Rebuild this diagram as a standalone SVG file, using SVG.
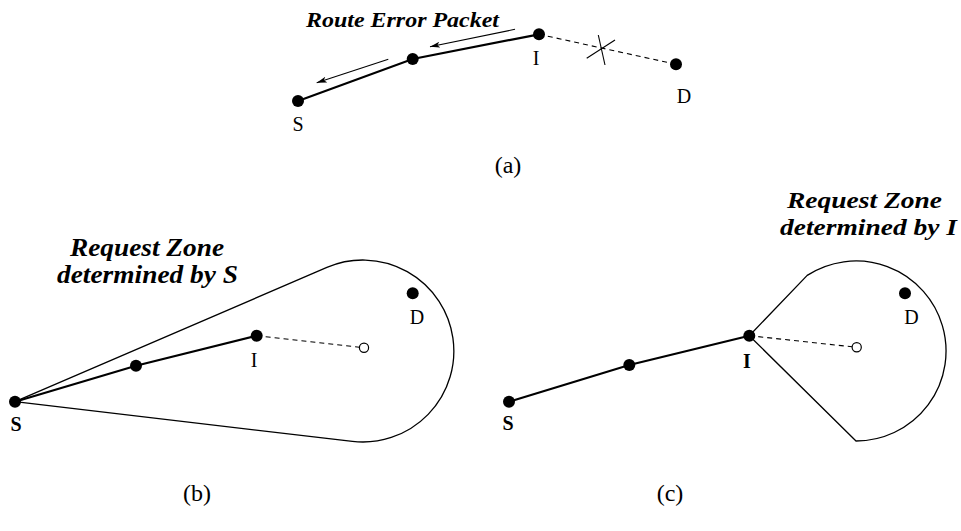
<svg xmlns="http://www.w3.org/2000/svg" width="961" height="531" viewBox="0 0 961 531">
<style>
.bg{fill:#fff}
.node{fill:#000}
.hollow{fill:#fff;stroke:#000;stroke-width:1.2}
.path{stroke:#000;stroke-width:2.2;fill:none;stroke-linecap:round}
.dash{stroke:#000;stroke-width:1.1;fill:none;stroke-dasharray:5,4}
.zone{stroke:#000;stroke-width:1.3;fill:none;stroke-linejoin:round}
.thin{stroke:#000;stroke-width:1.1;fill:none}
text{font-family:'Liberation Serif','Times New Roman',Times,serif;fill:#000}
.lbl{font-size:20px;text-anchor:middle}
.b{font-weight:bold}
.cap{font-size:24px;text-anchor:middle}
.title{font-weight:bold;font-style:italic}
</style>
<defs>
<marker id="ah" viewBox="0 0 10 6" refX="10" refY="3" markerWidth="10" markerHeight="6" markerUnits="userSpaceOnUse" orient="auto">
<path d="M0,0 L10,3 L0,6 L2.5,3 Z" fill="#000"/>
</marker>
</defs>
<rect class="bg" x="0" y="0" width="961" height="531"/>

<g id="connectors">
<polyline class="path" points="298,101 412.7,59 539,34.3"/>
<line class="dash" x1="539" y1="34.3" x2="676" y2="64.3"/>
<line class="thin" x1="586.7" y1="58.3" x2="615" y2="40"/>
<line class="thin" x1="598.3" y1="35" x2="605" y2="65"/>
<line class="thin" x1="515" y1="29.3" x2="430" y2="46.7" marker-end="url(#ah)"/>
<line class="thin" x1="388.3" y1="59.3" x2="316.7" y2="82.7" marker-end="url(#ah)"/>
<path class="zone" d="M15,401.7 L326.9,267.4 A91,91 0 1 1 352.4,441.4 Z"/>
<polyline class="path" points="15,401.7 136,365.7 256.7,335.7"/>
<line class="dash" x1="256.7" y1="335.7" x2="359.5" y2="347.2"/>
<path class="zone" d="M749.3,335.7 L807.2,275.4 A90,90 0 1 1 856,441 Z"/>
<polyline class="path" points="509,401.7 629.3,365 749.3,335.7"/>
<line class="dash" x1="749.3" y1="335.7" x2="852.2" y2="346.8"/>
</g>

<g id="panel-a">
<g id="a-S"><circle class="node" cx="298" cy="101" r="6"/><text class="lbl" x="298" y="131">S</text></g>
<g id="a-M"><circle class="node" cx="412.7" cy="59" r="6"/></g>
<g id="a-I"><circle class="node" cx="539" cy="34.3" r="6"/><text class="lbl" x="536" y="65">I</text></g>
<g id="a-D"><circle class="node" cx="676" cy="64.3" r="6"/><text class="lbl" x="684" y="103">D</text></g>
<text class="title" x="306" y="27" font-size="21" textLength="193" lengthAdjust="spacingAndGlyphs">Route Error Packet</text>
<text class="cap" x="508" y="173">(a)</text>
</g>

<g id="panel-b">
<g id="b-S"><circle class="node" cx="15" cy="401.7" r="6"/><text class="lbl b" x="16" y="431">S</text></g>
<g id="b-M"><circle class="node" cx="136" cy="365.7" r="6"/></g>
<g id="b-I"><circle class="node" cx="256.7" cy="335.7" r="6"/><text class="lbl" x="254" y="366.5">I</text></g>
<g id="b-H"><circle class="hollow" cx="364" cy="347.7" r="4.6"/></g>
<g id="b-D"><circle class="node" cx="412.7" cy="293.3" r="6"/><text class="lbl" x="417" y="324">D</text></g>
<text class="title" x="70" y="256" font-size="25" textLength="154" lengthAdjust="spacingAndGlyphs">Request Zone</text>
<text class="title" x="57" y="283" font-size="25" textLength="181" lengthAdjust="spacingAndGlyphs">determined by S</text>
<text class="cap" x="197" y="501">(b)</text>
</g>

<g id="panel-c">
<g id="c-S"><circle class="node" cx="509" cy="401.7" r="6"/><text class="lbl b" x="508" y="430">S</text></g>
<g id="c-M"><circle class="node" cx="629.3" cy="365" r="6"/></g>
<g id="c-I"><circle class="node" cx="749.3" cy="335.7" r="6"/><text class="lbl b" x="747" y="368">I</text></g>
<g id="c-H"><circle class="hollow" cx="856.7" cy="347.3" r="4.6"/></g>
<g id="c-D"><circle class="node" cx="905" cy="293.3" r="6"/><text class="lbl" x="911.5" y="323.5">D</text></g>
<text class="title" x="787" y="208" font-size="24" textLength="155" lengthAdjust="spacingAndGlyphs">Request Zone</text>
<text class="title" x="780" y="235" font-size="24" textLength="177" lengthAdjust="spacingAndGlyphs">determined by I</text>
<text class="cap" x="670" y="501">(c)</text>
</g>
</svg>
